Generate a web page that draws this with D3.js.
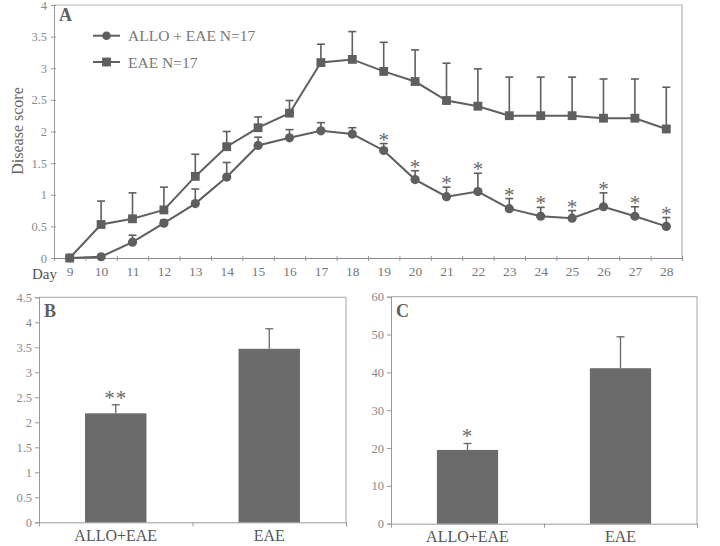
<!DOCTYPE html>
<html><head><meta charset="utf-8">
<script src="https://cdn.jsdelivr.net/npm/d3@7"></script>
<style>
body{margin:0;background:#fff;}
svg{display:block;font-family:"Liberation Serif","Times New Roman",serif;}
</style></head>
<body><svg id="c" width="720" height="546"></svg>
<script>
// ---- Data ----
const days = [9,10,11,12,13,14,15,16,17,18,19,20,21,22,23,24,25,26,27,28];
const alloMean = [0,0.02,0.25,0.55,0.86,1.28,1.78,1.90,2.01,1.96,1.70,1.24,0.97,1.05,0.78,0.66,0.63,0.81,0.66,0.50];
const alloErr  = [0,0,0.11,0.05,0.23,0.23,0.13,0.13,0.13,0.10,0.11,0.14,0.15,0.29,0.16,0.14,0.12,0.22,0.15,0.14];
const eaeMean  = [0,0.53,0.62,0.76,1.29,1.76,2.06,2.29,3.09,3.14,2.95,2.79,2.49,2.40,2.25,2.25,2.25,2.21,2.21,2.04];
const eaeErr   = [0,0.37,0.41,0.36,0.35,0.24,0.17,0.20,0.29,0.44,0.46,0.50,0.59,0.59,0.61,0.61,0.61,0.62,0.62,0.66];
const sigDays  = [19,20,21,22,23,24,25,26,27,28];
const seriesNames = ["ALLO + EAE N=17","EAE N=17"];
const yTicksA = [0,0.5,1,1.5,2,2.5,3,3.5,4];

const groups = ["ALLO+EAE","EAE"];
const bValues = [2.18,3.47];
const bErr = [0.17,0.40];
const bSig = ["**",""];
const yTicksB = [0,0.5,1,1.5,2,2.5,3,3.5,4,4.5];

const cValues = [19.5,41.1];
const cErr = [1.7,8.3];
const cSig = ["*",""];
const yTicksC = [0,10,20,30,40,50,60];

// ---- Styles ----
const dark = "#5f5f5f", barFill = "#6b6b6b", axisCol = "#999", frameCol = "#b5b5b5", tickTxt = "#8a8a8a", lblTxt = "#555";
const svg = d3.select("#c");

function styleAxis(g, txtCol, fs){
  g.select(".domain").attr("stroke", axisCol);
  g.selectAll(".tick line").attr("stroke", axisCol);
  g.selectAll(".tick text").attr("fill", txtCol).attr("font-size", fs).attr("font-family","Liberation Serif, serif");
}

// ================= Panel A =================
const A = {l:54, r:682, t:5, b:258};
const xA = d3.scaleLinear().domain([8.5,28.5]).range([A.l,A.r]);
const yA = d3.scaleLinear().domain([0,4]).range([A.b,A.t]);
const gA = svg.append("g");

// frame
gA.append("path").attr("d",`M${A.l},${A.t}H${A.r}V${A.b}`).attr("fill","none").attr("stroke",frameCol).attr("stroke-width",1.2);

// y axis
const ayA = gA.append("g").attr("transform",`translate(${A.l},0)`)
  .call(d3.axisLeft(yA).tickValues(yTicksA).tickFormat(d3.format("")).tickSize(3).tickPadding(4));
styleAxis(ayA, tickTxt, 12.5);
ayA.selectAll(".tick line").attr("x2",-3).attr("x1",2);

// x axis tick marks at band boundaries
const axA = gA.append("g").attr("transform",`translate(0,${A.b})`)
  .call(d3.axisBottom(xA).tickValues(d3.range(8.5,29,1)).tickFormat("").tickSize(3));
styleAxis(axA, tickTxt, 13);
axA.select(".domain").attr("stroke","#888").attr("stroke-width",1.2);
axA.selectAll(".tick line").attr("y1",-2).attr("y2",3);
// x labels
const axA2 = gA.append("g").attr("transform",`translate(0,${A.b})`)
  .call(d3.axisBottom(xA).tickValues(days).tickFormat(d3.format("d")).tickSize(0).tickPadding(8));
axA2.select(".domain").remove();
styleAxis(axA2, "#777", 13.5);
gA.append("text").attr("x",32).attr("y",279).attr("font-size",15).attr("fill",lblTxt).text("Day");

// y label
gA.append("text").attr("transform","translate(23,131) rotate(-90)").attr("text-anchor","middle")
  .attr("font-size",16).attr("fill","#666").text("Disease score");

// panel label
gA.append("text").attr("x",59).attr("y",21).attr("font-size",18).attr("font-weight","bold").attr("fill",dark).text("A");

const lineGen = d3.line().x((d,i)=>xA(days[i])).y(d=>yA(d));

// error bars
function errBars(means, errs){
  const g = gA.append("g");
  days.forEach((d,i)=>{
    if(errs[i] <= 0) return;
    const x = xA(d), y0 = yA(means[i]), y1 = yA(means[i]+errs[i]);
    g.append("line").attr("x1",x).attr("x2",x).attr("y1",y0).attr("y2",y1).attr("stroke",dark).attr("stroke-width",1.6);
    g.append("line").attr("x1",x-4).attr("x2",x+4).attr("y1",y1).attr("y2",y1).attr("stroke",dark).attr("stroke-width",1.6);
  });
}
errBars(eaeMean, eaeErr);
errBars(alloMean, alloErr);

gA.append("path").datum(eaeMean).attr("d",lineGen).attr("fill","none").attr("stroke",dark).attr("stroke-width",2);
gA.append("path").datum(alloMean).attr("d",lineGen).attr("fill","none").attr("stroke",dark).attr("stroke-width",2);

const sq = d3.symbol().type(d3.symbolSquare).size(78);
gA.append("g").selectAll("path").data(eaeMean).join("path")
  .attr("d",sq).attr("transform",(d,i)=>`translate(${xA(days[i])},${yA(d)})`).attr("fill",dark);
gA.append("g").selectAll("circle").data(alloMean).join("circle")
  .attr("cx",(d,i)=>xA(days[i])).attr("cy",d=>yA(d)).attr("r",4.6).attr("fill",dark);

// significance stars
gA.append("g").selectAll("text").data(sigDays).join("text")
  .attr("x",d=>xA(d)).attr("y",d=>{const i=days.indexOf(d);return yA(alloMean[i]+alloErr[i])+3;})
  .attr("text-anchor","middle").attr("font-size",21).attr("fill","#6a6a6a").text("*");

// legend
const leg = gA.append("g");
[35.7, 62].forEach((ly,k)=>{
  leg.append("line").attr("x1",93).attr("x2",120).attr("y1",ly).attr("y2",ly).attr("stroke",dark).attr("stroke-width",2);
  if(k===0) leg.append("circle").attr("cx",106.5).attr("cy",ly).attr("r",4.3).attr("fill",dark);
  else leg.append("path").attr("d",sq).attr("transform",`translate(106.5,${ly})`).attr("fill",dark);
  leg.append("text").attr("x",128).attr("y",ly+5.5).attr("font-size",15.5).attr("fill","#777").text(seriesNames[k]);
});

// ================= Bar panels =================
function barPanel(P, values, errs, sigs, ticks, yMax, label, tickFs){
  const g = svg.append("g");
  const x = d3.scaleBand().domain(groups).range([P.l,P.r]).paddingInner(0).paddingOuter(0);
  const y = d3.scaleLinear().domain([0,yMax]).range([P.b,P.t]);
  g.append("path").attr("d",`M${P.l},${P.t}H${P.r}V${P.b}`).attr("fill","none").attr("stroke",frameCol).attr("stroke-width",1.2);
  const ay = g.append("g").attr("transform",`translate(${P.l},0)`)
    .call(d3.axisLeft(y).tickValues(ticks).tickFormat(d3.format("")).tickSize(4).tickPadding(3));
  styleAxis(ay, tickTxt, tickFs);
  // x axis: ticks at boundaries
  const ax = g.append("g").attr("transform",`translate(0,${P.b})`)
    .call(d3.axisBottom(d3.scaleLinear().domain([0,2]).range([P.l,P.r])).tickValues([1,2]).tickFormat("").tickSize(4));
  styleAxis(ax, tickTxt, 12);
  const ax2 = g.append("g").attr("transform",`translate(0,${P.b})`)
    .call(d3.axisBottom(x).tickSize(0).tickPadding(7));
  ax2.select(".domain").remove();
  styleAxis(ax2, lblTxt, 16);
  const bw = x.bandwidth()*0.4;
  groups.forEach((gname,i)=>{
    const cx = x(gname)+x.bandwidth()/2;
    const top = y(values[i]+errs[i]);
    g.append("line").attr("x1",cx).attr("x2",cx).attr("y1",y(values[i])).attr("y2",top).attr("stroke","#666").attr("stroke-width",1.3);
    g.append("line").attr("x1",cx-4).attr("x2",cx+4).attr("y1",top).attr("y2",top).attr("stroke","#666").attr("stroke-width",1.3);
    g.append("rect").attr("x",cx-bw/2).attr("width",bw).attr("y",y(values[i])).attr("height",P.b-y(values[i])).attr("fill",barFill);
    if(sigs[i]) g.append("text").attr("x",cx).attr("y",top+0).attr("text-anchor","middle").attr("font-size",21).attr("fill","#6a6a6a").attr("letter-spacing",1).text(sigs[i]);
  });
  g.append("text").attr("x",P.l+5).attr("y",P.t+20).attr("font-size",18).attr("font-weight","bold").attr("fill",dark).text(label);
}
barPanel({l:39,r:346,t:297.3,b:522.3}, bValues, bErr, bSig, yTicksB, 4.5, "B", 12.5);
barPanel({l:391,r:697,t:296.7,b:523.7}, cValues, cErr, cSig, yTicksC, 60, "C", 12.5);
</script></body></html>
